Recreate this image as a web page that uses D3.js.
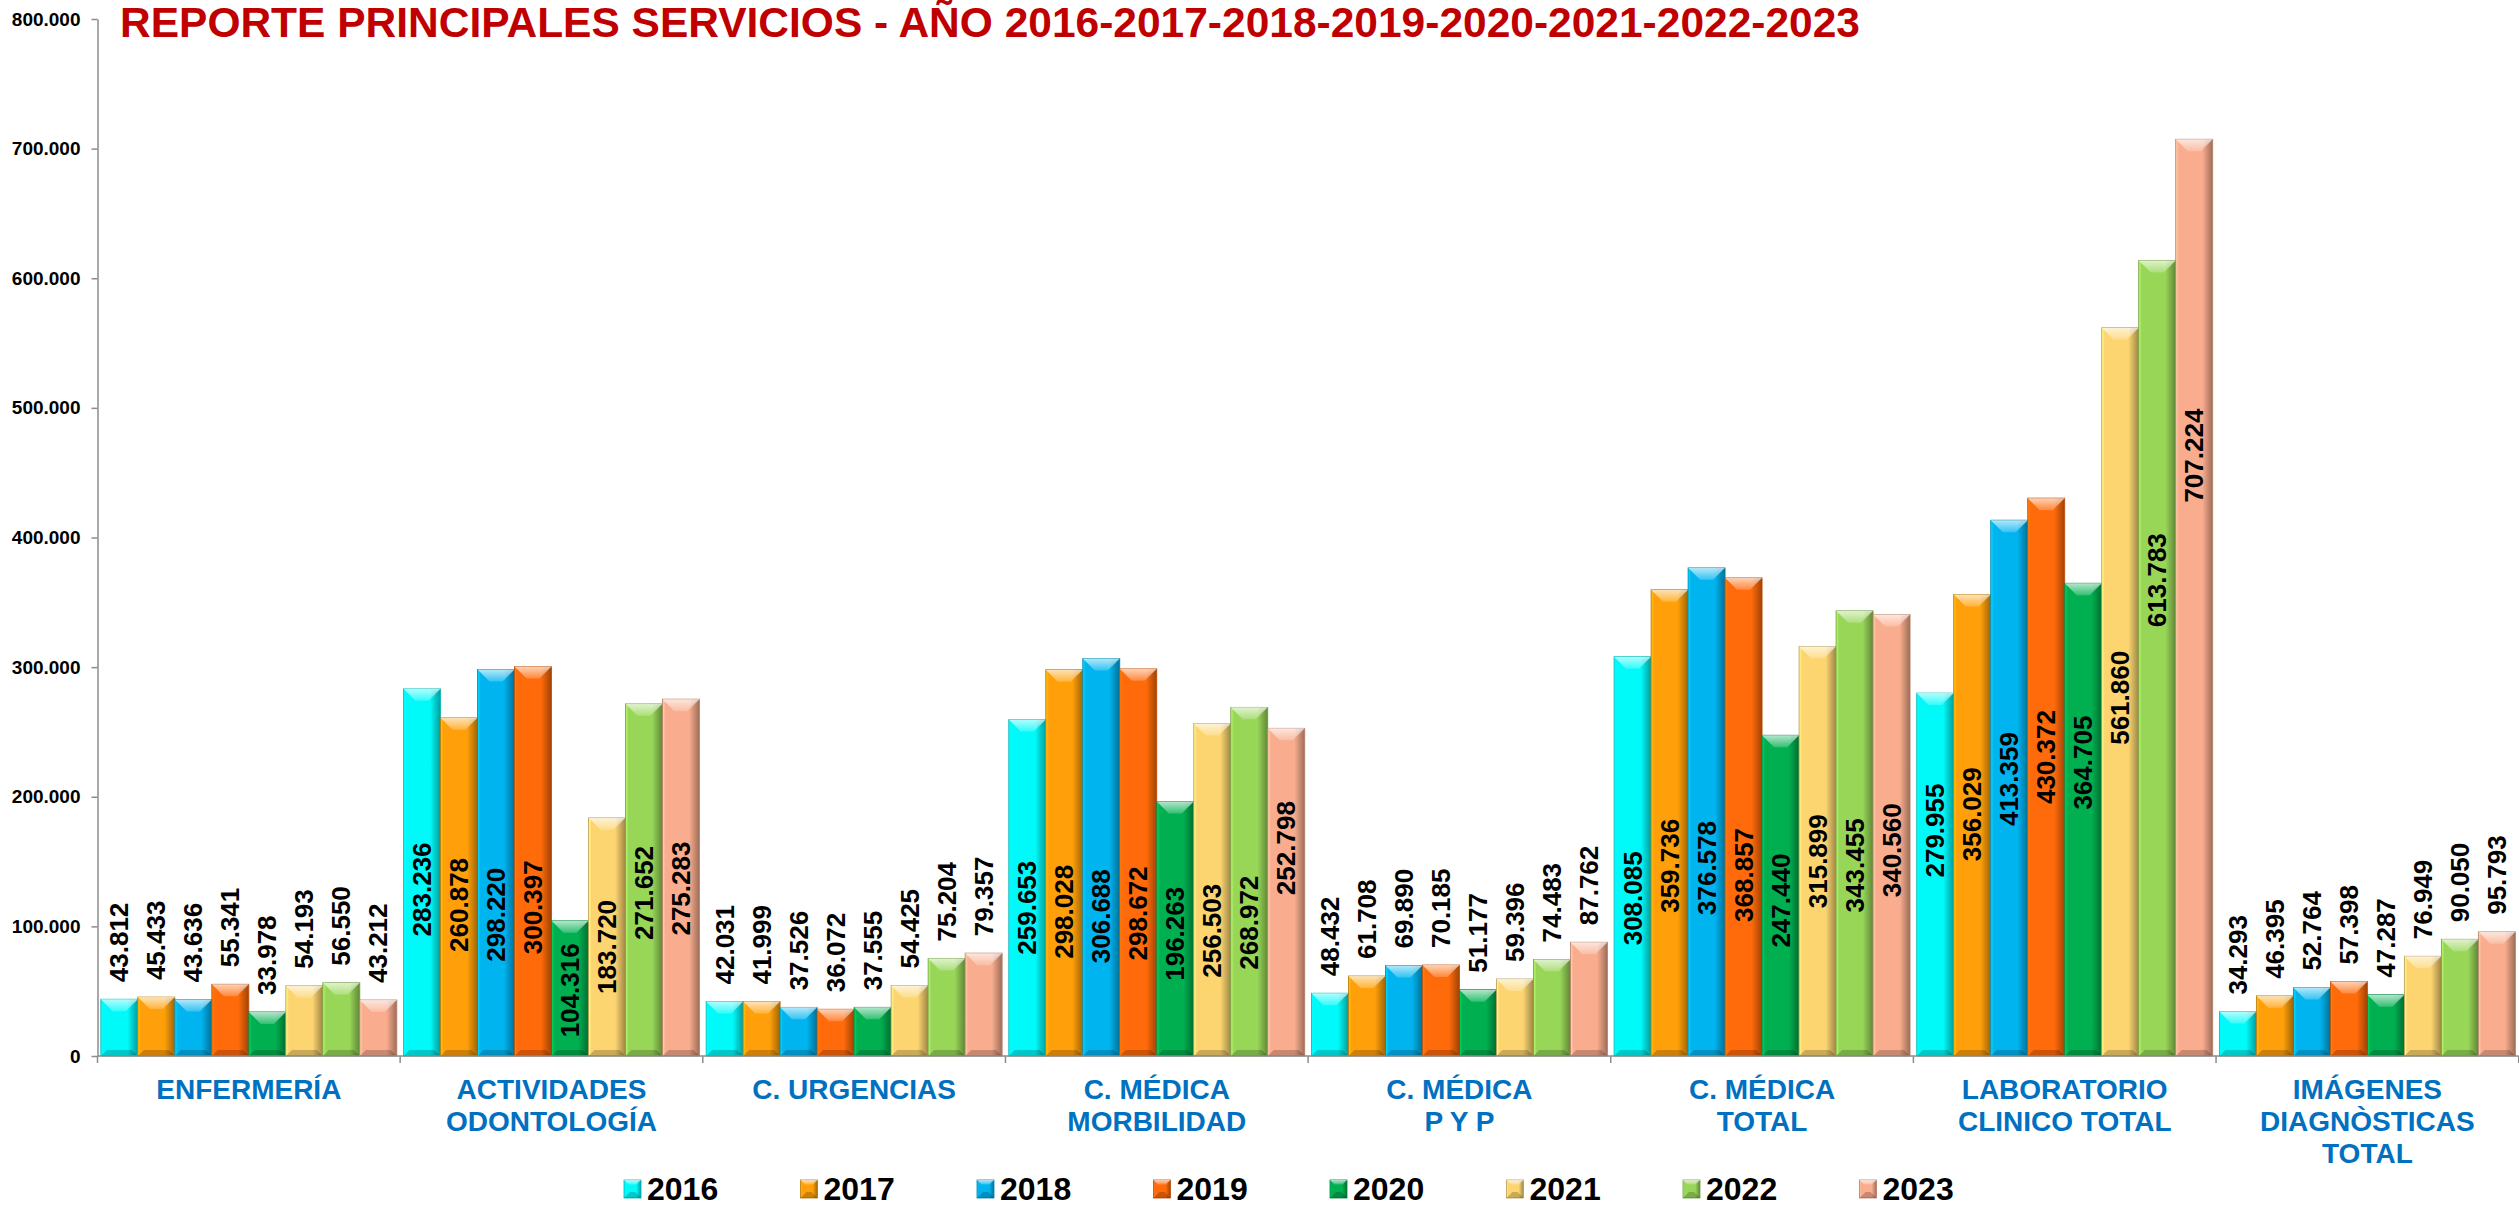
<!DOCTYPE html>
<html>
<head>
<meta charset="utf-8">
<script src="https://cdn.jsdelivr.net/npm/d3@7/dist/d3.min.js"></script>
<style>
  body { margin: 0; background: #fff; }
  svg { display: block; font-family: "Liberation Sans", Arial, sans-serif; font-weight: bold; }
</style>
</head>
<body>
<div id="chart"></div>
<script>
// categories (line breaks as in the original axis labels)
const categories = [
  'ENFERMERÍA',
  'ACTIVIDADES\nODONTOLOGÍA',
  'C. URGENCIAS',
  'C. MÉDICA\nMORBILIDAD',
  'C. MÉDICA\nP Y P',
  'C. MÉDICA\nTOTAL',
  'LABORATORIO\nCLINICO TOTAL',
  'IMÁGENES\nDIAGNÒSTICAS\nTOTAL'
];
const years = ['2016', '2017', '2018', '2019', '2020', '2021', '2022', '2023'];

const v2016 = [43812, 283236, 42031, 259653, 48432, 308085, 279955, 34293];
const v2017 = [45433, 260878, 41999, 298028, 61708, 359736, 356029, 46395];
const v2018 = [43636, 298220, 37526, 306688, 69890, 376578, 413359, 52764];
const v2019 = [55341, 300397, 36072, 298672, 70185, 368857, 430372, 57398];
const v2020 = [33978, 104316, 37555, 196263, 51177, 247440, 364705, 47287];
const v2021 = [54193, 183720, 54425, 256503, 59396, 315899, 561860, 76949];
const v2022 = [56550, 271652, 75204, 268972, 74483, 343455, 613783, 90050];
const v2023 = [43212, 275283, 79357, 252798, 87762, 340560, 707224, 95793];
const series = [v2016, v2017, v2018, v2019, v2020, v2021, v2022, v2023];

const yTicks = [0, 100000, 200000, 300000, 400000, 500000, 600000, 700000, 800000];

// colours per year
const colors = ['#00FAFA', '#FFA00A', '#00B4F0', '#FF6A0A', '#00B050', '#FCD570', '#98D658', '#F9AD8E'];

// hand placed labels in the original: pixel nudge from the bar middle (inside labels only)
const labelNudge = [
  null,
  [17, 18, 52, 46, 2, 10, 13, 11],
  null,
  [20, 49, 59, 51, 5, 41, 41, -44],
  null,
  [42, 43, 56, 58, 5, 10, 32, 15],
  [-44, -11, -9, -20, -57, 6, -78, -142],
  null
];

const W = 2519, H = 1206;
const plotLeft = 97.5, plotRight = 2518.7, baseY = 1056, topY = 19;

const fmt = d3.formatLocale({ decimal: ',', thousands: '.', grouping: [3], currency: ['$', ''] }).format(',d');

const svg = d3.select('#chart').append('svg')
  .attr('width', W)
  .attr('height', H);

const x0 = d3.scaleBand()
  .domain(d3.range(categories.length))
  .range([plotLeft, plotRight])
  .padding(0);

const x1 = d3.scaleBand()
  .domain(d3.range(years.length))
  .range([0, x0.bandwidth()])
  .paddingInner(0)
  .paddingOuter(0.09);

const y = d3.scaleLinear()
  .domain([0, 800000])
  .range([baseY, topY]);

// horizontal gradients for the bevelled bars
const defs = svg.append('defs');
colors.forEach((c, i) => {
  const g = defs.append('linearGradient')
    .attr('id', `grad${i}`)
    .attr('x1', '0%').attr('x2', '100%')
    .attr('y1', '0%').attr('y2', '0%');
  g.append('stop').attr('offset', '0%').attr('stop-color', d3.color(c).brighter(0.6));
  g.append('stop').attr('offset', '8%').attr('stop-color', c);
  g.append('stop').attr('offset', '72%').attr('stop-color', c);
  g.append('stop').attr('offset', '100%').attr('stop-color', d3.color(c).darker(1.3));
});
const topGrad = defs.append('linearGradient')
  .attr('id', 'topShine')
  .attr('x1', '0%').attr('x2', '0%')
  .attr('y1', '0%').attr('y2', '100%');
topGrad.append('stop').attr('offset', '0%').attr('stop-color', '#fff').attr('stop-opacity', 0.7);
topGrad.append('stop').attr('offset', '100%').attr('stop-color', '#fff').attr('stop-opacity', 0.2);

function bevelBar(g, x, yTop, w, h, ci) {
  const c = colors[ci];
  g.append('rect')
    .attr('x', x).attr('y', yTop)
    .attr('width', w).attr('height', h)
    .attr('fill', `url(#grad${ci})`)
    .attr('stroke', d3.color(c).darker(0.9))
    .attr('stroke-width', 0.8);
  const bt = Math.min(12, h / 2, w / 2 - 4);
  g.append('polygon')
    .attr('points', [[x, yTop], [x + w, yTop], [x + w - bt, yTop + bt], [x + bt, yTop + bt]].join(' '))
    .attr('fill', 'url(#topShine)');
  const bb = Math.min(6, h / 2);
  g.append('polygon')
    .attr('points', [[x, yTop + h], [x + w, yTop + h], [x + w - bb, yTop + h - bb], [x + bb, yTop + h - bb]].join(' '))
    .attr('fill', '#000').attr('fill-opacity', 0.2);
}

// title
svg.append('text')
  .attr('x', 120)
  .attr('y', 37)
  .attr('font-size', 42)
  .attr('fill', '#C00000')
  .attr('textLength', 1740)
  .attr('lengthAdjust', 'spacingAndGlyphs')
  .text('REPORTE PRINCIPALES SERVICIOS - AÑO 2016-2017-2018-2019-2020-2021-2022-2023');

// y axis
const yAxis = svg.append('g')
  .attr('transform', `translate(${plotLeft},0)`)
  .call(d3.axisLeft(y).tickValues(yTicks).tickSize(6).tickSizeOuter(0).tickPadding(11).tickFormat(fmt));
yAxis.select('.domain').attr('stroke', '#8c8c8c').attr('stroke-width', 1.5);
yAxis.selectAll('.tick line').attr('stroke', '#8c8c8c').attr('stroke-width', 1.5);
yAxis.selectAll('.tick text')
  .attr('font-size', 19)
  .attr('font-weight', 'bold')
  .attr('font-family', '"Liberation Sans", Arial, sans-serif')
  .attr('fill', '#000');

// bars
const groups = svg.append('g').selectAll('g')
  .data(categories)
  .join('g')
  .attr('transform', (d, i) => `translate(${x0(i)},0)`);

groups.each(function (cat, ci) {
  const g = d3.select(this);
  series.forEach((vals, si) => {
    const v = vals[ci];
    bevelBar(g.append('g'), x1(si), y(v), x1.bandwidth(), y(0) - y(v), si);
  });
});

// x axis line + category separators
const boundaries = d3.range(categories.length + 1).map(i => plotLeft + i * x0.step());
svg.append('line')
  .attr('x1', plotLeft).attr('x2', plotRight)
  .attr('y1', baseY).attr('y2', baseY)
  .attr('stroke', '#8c8c8c').attr('stroke-width', 1.5);
svg.append('g').selectAll('line')
  .data(boundaries)
  .join('line')
  .attr('x1', d => d).attr('x2', d => d)
  .attr('y1', baseY).attr('y2', baseY + 7)
  .attr('stroke', '#8c8c8c').attr('stroke-width', 1.5);

// value labels
groups.each(function (cat, ci) {
  const g = d3.select(this);
  series.forEach((vals, si) => {
    const v = vals[ci];
    const cx = x1(si) + x1.bandwidth() / 2;
    let cy, anchor;
    if (v >= 100000) {
      const nudge = labelNudge[ci] ? labelNudge[ci][si] : 0;
      cy = (y(v) + y(0)) / 2 + nudge;
      anchor = 'middle';
    } else {
      cy = y(v) - 17;
      anchor = 'start';
    }
    g.append('text')
      .attr('transform', `translate(${cx},${cy}) rotate(-90)`)
      .attr('text-anchor', anchor)
      .attr('dominant-baseline', 'central')
      .attr('font-size', 26)
      .attr('fill', '#000')
      .text(fmt(v));
  });
});

// category labels
groups.append('text')
  .attr('x', x0.bandwidth() / 2)
  .attr('y', 1099)
  .attr('text-anchor', 'middle')
  .attr('font-size', 28)
  .attr('fill', '#0070C0')
  .selectAll('tspan')
  .data(d => d.split('\n'))
  .join('tspan')
  .attr('x', x0.bandwidth() / 2)
  .attr('dy', (d, i) => i === 0 ? 0 : 32)
  .text(d => d);

// legend
const legend = svg.append('g').selectAll('g')
  .data(years)
  .join('g')
  .attr('transform', (d, i) => `translate(${624 + i * 176.5},1180)`);
legend.each(function (yr, i) {
  bevelBar(d3.select(this), 0, 0, 17, 18, i);
});
legend.append('text')
  .attr('x', 23)
  .attr('y', 20)
  .attr('font-size', 32)
  .attr('fill', '#000')
  .text(d => d);
</script>
</body>
</html>
